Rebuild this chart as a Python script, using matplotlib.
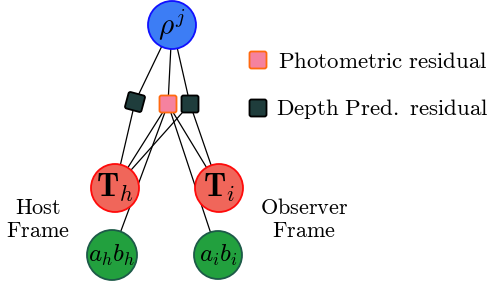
import numpy as np
from matplotlib import pyplot as plt
import matplotlib.patches as patches
import matplotlib.transforms as mtransforms

plt.rcParams['mathtext.fontset'] = 'cm'

# variable nodes: name, label
nodes = ['rho', 'Th', 'Ti', 'abh', 'abi']
node_labels = [r'$\rho^j$', r'$\mathbf{T}_h$', r'$\mathbf{T}_i$', r'$a_hb_h$', r'$a_ib_i$']
# factor nodes: name, kind
factors = ['f_left', 'f_photo', 'f_right']
factor_kind = ['depth', 'photo', 'depth']
# edges factor -> variable
edges = [('f_left', 'rho'), ('f_left', 'Th'),
         ('f_photo', 'rho'), ('f_photo', 'Th'), ('f_photo', 'Ti'),
         ('f_photo', 'abh'), ('f_photo', 'abi'),
         ('f_right', 'rho'), ('f_right', 'Th'), ('f_right', 'Ti')]
legend_labels = ['Photometric residual', 'Depth Pred. residual']
frame_labels = [['Host', 'Frame'], ['Observer', 'Frame']]

# layout (pixel coords)
pos = {'rho': (172, 25), 'Th': (115, 188), 'Ti': (219, 188),
       'abh': (112, 255), 'abi': (218, 255),
       'f_left': (135, 102), 'f_photo': (168, 104), 'f_right': (190, 104)}
node_style = {'rho': ('#3c7df5', '#1010ff'), 'Th': ('#f0665a', '#ff0a0a'),
              'Ti': ('#f0665a', '#ff0a0a'), 'abh': ('#22a03e', '#1d5a48'),
              'abi': ('#22a03e', '#1d5a48')}
kind_style = {'photo': ('#f5829f', '#ff6a10'), 'depth': ('#1f3d3c', '#000000')}

fig = plt.figure(figsize=(4.88, 2.87), dpi=100)
ax = fig.add_axes([0, 0, 1, 1])
ax.set_xlim(0, 488)
ax.set_ylim(287, 0)
ax.axis('off')

for f, v in edges:
    (x1, y1), (x2, y2) = pos[f], pos[v]
    ax.plot([x1, x2], [y1, y2], color='black', lw=0.9, zorder=1)

sizes = {'rho': 24, 'Th': 24, 'Ti': 24, 'abh': 25, 'abi': 24}
fsz = {'rho': 21, 'Th': 23, 'Ti': 23, 'abh': 18, 'abi': 18}
for n, lab in zip(nodes, node_labels):
    fc, ec = node_style[n]
    ax.add_patch(patches.Circle(pos[n], sizes[n], facecolor=fc, edgecolor=ec,
                                lw=1.3, zorder=3))
    ax.text(pos[n][0], pos[n][1], lab, ha='center', va='center',
            fontsize=fsz[n], zorder=4)

s = 17
for f, k in zip(factors, factor_kind):
    fc, ec = kind_style[k]
    ang = 15 if f == 'f_left' else 0
    x, y = pos[f]
    tr = mtransforms.Affine2D().rotate_deg_around(x, y, ang) + ax.transData
    ax.add_patch(patches.FancyBboxPatch((x - s / 2, y - s / 2), s, s,
                                        boxstyle='round,pad=0,rounding_size=2',
                                        facecolor=fc, edgecolor=ec, lw=1.3, zorder=3,
                                        transform=tr))

# legend
for i, (k, lab) in enumerate(zip(['photo', 'depth'], legend_labels)):
    fc, ec = kind_style[k]
    y = 60 + 48 * i
    ax.add_patch(patches.FancyBboxPatch((258 - 8.5, y - 8.5), 17, 17,
                                        boxstyle='round,pad=0,rounding_size=2',
                                        facecolor=fc, edgecolor=ec, lw=1.3))
    ax.text(278 if i == 0 else 276, y + 1, r'$\mathrm{' + lab.replace(' ', r'\ ') + '}$',
            ha='left', va='center', fontsize=16.5)

for cx, lines in zip([38, 304], frame_labels):
    for j, w in enumerate(lines):
        ax.text(cx, 208 + 23 * j, r'$\mathrm{' + w + '}$', ha='center',
                va='center', fontsize=16)

fig.savefig('out.png', dpi=100)
